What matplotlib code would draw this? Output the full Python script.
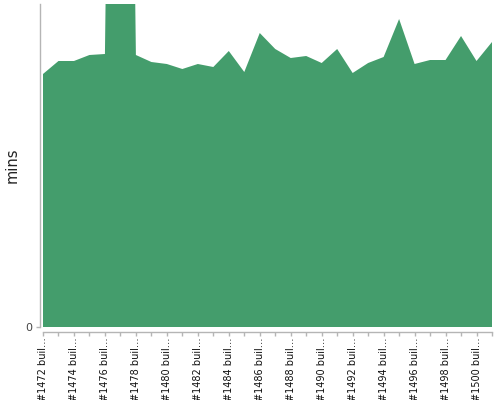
import matplotlib
matplotlib.use("Agg")
import matplotlib.pyplot as plt
import numpy as np

builds = list(range(1472, 1502))
labels = [f"#{b} buil\u2026" for b in builds]
mins = [25.3, 26.6, 26.6, 27.2, 27.3, 150.0, 27.2, 26.5, 26.3, 25.8,
        26.3, 26.0, 27.6, 25.5, 29.4, 27.8, 26.9, 27.1, 26.4, 27.8,
        25.4, 26.4, 27.0, 30.8, 26.3, 26.7, 26.7, 29.1, 26.6, 28.5]
y_max = 32.3

color = "#449d6c"
axis_gray = "#b5b5b5"

fig = plt.figure(figsize=(5, 4), dpi=100)
ax = fig.add_axes([43/500, (400-327)/400, (492-43)/500, (327-4)/400])

x = np.arange(len(mins))
ax.fill_between(x, 0, mins, color=color, linewidth=0)
ax.set_xlim(0, len(mins)-1)
ax.set_ylim(0, y_max)

for s in ["top", "right"]:
    ax.spines[s].set_visible(False)
ax.spines["left"].set_position(("outward", 2.5))
ax.spines["bottom"].set_position(("outward", 3.6))
for s in ["left", "bottom"]:
    ax.spines[s].set_color(axis_gray)
    ax.spines[s].set_linewidth(1)

ax.set_xticks(x)
ax.set_xticklabels([l if i % 2 == 0 else "" for i, l in enumerate(labels)],
                   rotation=90, fontsize=7, color="#111111")
ax.set_yticks([0])
ax.set_yticklabels(["0"], fontsize=8, color="#444444")
ax.tick_params(axis="x", length=3, width=1, color=axis_gray, pad=1.0)
ax.tick_params(axis="y", length=3, width=1, color=axis_gray, pad=2)
ax.set_ylabel("mins", fontsize=10.5, color="#222222", va="center")
ax.yaxis.set_label_coords((12-43)/449, 0.5)

fig.savefig("out.png", dpi=100)
